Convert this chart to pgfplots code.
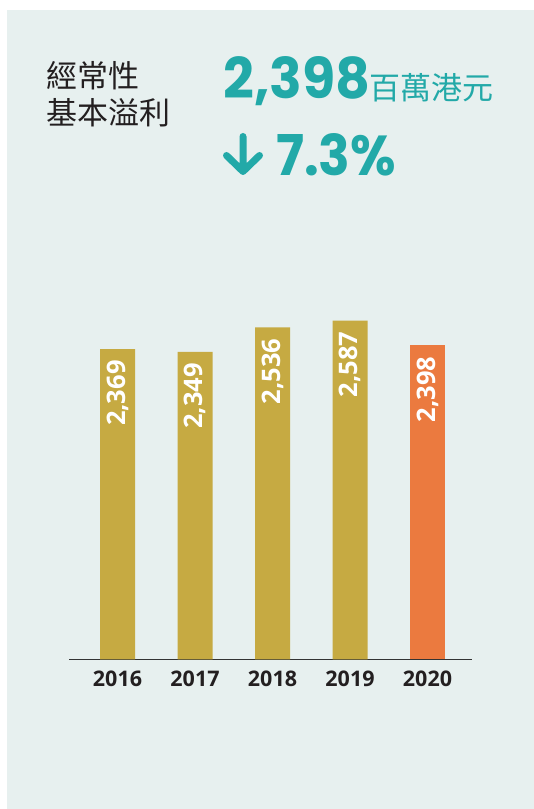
\documentclass[border=0pt]{standalone}
\usepackage{fontspec}
\usepackage{pgfplots}
\pgfplotsset{compat=1.18}
\usepackage{pgfplotstable}
\setmainfont{Open Sans}
\newfontfamily\cjk{Noto Sans CJK TC}
\newfontfamily\pop{Poppins}
\definecolor{panel}{HTML}{E7F0EF}
\definecolor{gold}{HTML}{C6AA42}
\definecolor{orng}{HTML}{EB7A3F}
\definecolor{tealc}{HTML}{22A9A8}
\definecolor{txt}{HTML}{231F20}
\definecolor{axisc}{HTML}{333333}
\pgfplotstableread{
x y label
0 2369 2,369
1 2349 2,349
2 2536 2,536
3 2587 2,587
}\goldtab
\pgfplotstableread{
x y label
4 2398 2,398
}\orangetab
\begin{document}
\begin{tikzpicture}[x=1pt,y=1pt]
\fill[white] (0,0) rectangle (534,809);
\fill[panel] (7,0) rectangle (534,799);
\node[anchor=west, inner sep=0, font=\cjk\fontsize{31}{36}\selectfont, text=txt] at (46,733.5) {經常性};
\node[anchor=west, inner sep=0, font=\cjk\fontsize{31}{36}\selectfont, text=txt] at (46,696) {基本溢利};
\node[anchor=base west, inner sep=0, text=tealc] at (223,710.7) {\resizebox{147pt}{42pt}{\pop\bfseries 2,398}};
\node[anchor=west, inner sep=0, font=\cjk\fontsize{31}{36}\selectfont, text=tealc] at (369,721.5) {百萬港元};
\draw[tealc, line width=7pt, line cap=round, line join=round] (243,672.5) -- (243,637.5) (226.5,653.5) -- (243,637.5) -- (259.5,653.5);
\node[anchor=base west, inner sep=0, text=tealc] at (276,633) {\resizebox{120pt}{42pt}{\pop\bfseries 7.3\%}};
\begin{axis}[
  at={(69pt,149.5pt)}, anchor=south west,
  scale only axis, width=403pt, height=340.6pt,
  xmin=-0.626, xmax=4.574, ymin=0, ymax=2600,
  axis x line=bottom, axis y line=none,
  axis line style={-, draw=axisc, line width=1.5pt},
  xtick={0,1,2,3,4}, xticklabels={2016,2017,2018,2019,2020},
  major tick length=0pt, ytick=\empty,
  x tick label style={font=\bfseries\fontsize{21.5}{25}\selectfont, text=txt, yshift=-7.5pt},
  /pgf/number format/assume math mode=true,
  ybar, bar width=35pt, clip=false,
  point meta=explicit symbolic,
  nodes near coords,
  nodes near coords style={rotate=90, anchor=east, inner xsep=11pt, inner ysep=0pt, text=white, font=\bfseries\fontsize{25.5}{29}\selectfont},
]
\addplot[fill=gold, draw=none, bar shift=0pt] table[x=x, y=y, meta=label] {\goldtab};
\addplot[fill=orng, draw=none, bar shift=0pt] table[x=x, y=y, meta=label] {\orangetab};
\end{axis}
\end{tikzpicture}
\end{document}
